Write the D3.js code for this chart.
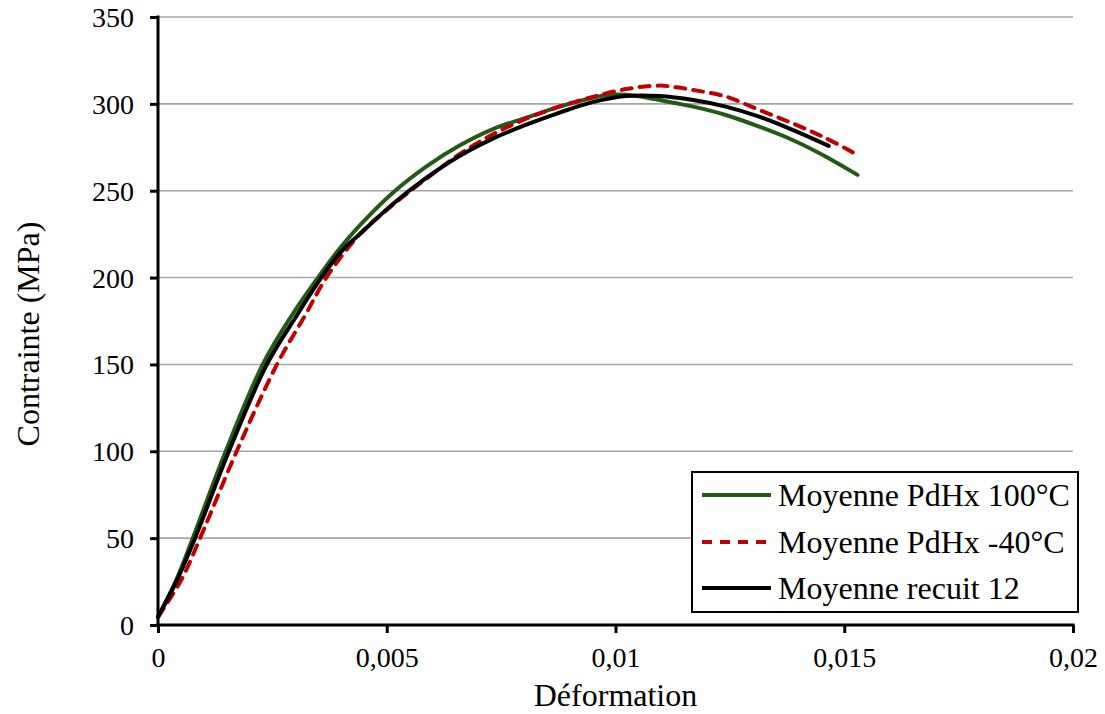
<!DOCTYPE html>
<html>
<head>
<meta charset="utf-8">
<script src="https://cdn.jsdelivr.net/npm/d3@7"></script>
<style>
  body { margin: 0; background: #fff; }
</style>
</head>
<body>
<svg id="chart" width="1105" height="714"></svg>
<script>
// Average stress–strain curves (strain, stress in MPa)
const seriesNames = ["Moyenne PdHx 100°C", "Moyenne PdHx -40°C", "Moyenne recuit 12"];

const strain100 = [0, 0.00040, 0.00076, 0.00148, 0.00229, 0.00292, 0.00347, 0.00395, 0.00441, 0.00514, 0.00587, 0.00659, 0.00732, 0.00805, 0.00878, 0.00950, 0.00987, 0.01023, 0.01060, 0.01096, 0.01133, 0.01170, 0.01241, 0.01314, 0.01387, 0.01460, 0.01529];
const stress100 = [5, 26, 50, 100, 150, 178, 199, 216, 230, 249, 264, 276, 285.5, 292, 298.4, 303.5, 305.2, 305.3, 304, 302.2, 300.3, 298.4, 293.6, 286.9, 279.2, 269.6, 259.1];

const strainM40 = [0, 0.00051, 0.00092, 0.00172, 0.00260, 0.00321, 0.00368, 0.00441, 0.00514, 0.00587, 0.00659, 0.00732, 0.00805, 0.00878, 0.00950, 0.01023, 0.01096, 0.01133, 0.01170, 0.01241, 0.01314, 0.01387, 0.01460, 0.01529];
const stressM40 = [4.6, 26, 50, 100, 150, 178, 200, 225, 242, 257, 271, 282.5, 291.5, 298.5, 304, 308.5, 310.5, 309.5, 308, 304.2, 296.5, 288.8, 280.2, 270.6];

const strainRec = [0, 0.00042, 0.00081, 0.00155, 0.00238, 0.00303, 0.00357, 0.00404, 0.00441, 0.00514, 0.00587, 0.00659, 0.00732, 0.00805, 0.00878, 0.00950, 0.01023, 0.01096, 0.01170, 0.01241, 0.01314, 0.01387, 0.01466];
const stressRec = [4.6, 26, 50, 100, 150, 178, 200, 216, 225, 242.5, 257.5, 270, 280, 288, 295, 301, 304.5, 304.5, 302.2, 298.4, 292.6, 285, 275.8];

const xTicks = [0, 0.005, 0.01, 0.015, 0.02];
const xTickLabels = ["0", "0,005", "0,01", "0,015", "0,02"];
const yTicks = [0, 50, 100, 150, 200, 250, 300, 350];

const serifFont = "Liberation Serif";

const svg = d3.select("#chart");
const plot = { left: 158, right: 1073, top: 17, bottom: 625 };

const x = d3.scaleLinear().domain([0, 0.02]).range([plot.left, plot.right]);
const y = d3.scaleLinear().domain([0, 350]).range([plot.bottom, plot.top]);

// horizontal gridlines
svg.append("g").selectAll("line").data(yTicks.filter(d => d > 0)).join("line")
  .attr("x1", plot.left).attr("x2", plot.right)
  .attr("y1", d => y(d)).attr("y2", d => y(d))
  .attr("stroke", "#a6a6a6").attr("stroke-width", 1.6);

// series
const series = [
  { name: seriesNames[0], xs: strain100, ys: stress100, color: "#235b12", dash: null },
  { name: seriesNames[1], xs: strainM40, ys: stressM40, color: "#c00000", dash: "10,8" },
  { name: seriesNames[2], xs: strainRec, ys: stressRec, color: "#000000", dash: null }
];

const line = d3.line()
  .x(d => x(d[0])).y(d => y(d[1]))
  .curve(d3.curveCatmullRom.alpha(0.5));

series.forEach(s => {
  svg.append("path")
    .datum(s.xs.map((v, i) => [v, s.ys[i]]))
    .attr("d", line)
    .attr("fill", "none")
    .attr("stroke", s.color)
    .attr("stroke-width", 4)
    .attr("stroke-linecap", "round")
    .attr("stroke-linejoin", "round")
    .attr("stroke-dasharray", s.dash);
});

// y axis
const yAxis = svg.append("g").attr("transform", `translate(${plot.left},0)`)
  .call(d3.axisLeft(y).tickValues(yTicks).tickSize(8).tickPadding(16).tickFormat(d3.format("d")));
yAxis.attr("font-family", null).attr("font-size", null);
yAxis.select(".domain").attr("stroke", "#000").attr("stroke-width", 3).attr("d", `M0,${plot.bottom + 1.5}V${plot.top - 1.5}`);
yAxis.selectAll(".tick line").attr("stroke", "#000").attr("stroke-width", 3);
yAxis.selectAll(".tick text").style("font-family", serifFont).style("font-size", "28px").attr("fill", "#000").attr("dy", "0.34em");

// x axis
const xAxis = svg.append("g").attr("transform", `translate(0,${plot.bottom})`)
  .call(d3.axisBottom(x).tickValues(xTicks).tickSize(8).tickPadding(14).tickFormat((d, i) => xTickLabels[i]));
xAxis.attr("font-family", null).attr("font-size", null);
xAxis.select(".domain").attr("stroke", "#000").attr("stroke-width", 3).attr("d", `M${plot.left - 1.5},0H${plot.right + 1.5}`);
xAxis.selectAll(".tick line").attr("stroke", "#000").attr("stroke-width", 3);
xAxis.selectAll(".tick text").style("font-family", serifFont).style("font-size", "28px").attr("fill", "#000");

// axis titles
svg.append("text")
  .attr("x", x(0.01)).attr("y", 706)
  .attr("text-anchor", "middle")
  .attr("font-family", serifFont).attr("font-size", 32)
  .text("Déformation");

svg.append("text")
  .attr("transform", "translate(39,334) rotate(-90)")
  .attr("text-anchor", "middle")
  .attr("font-family", serifFont).attr("font-size", 32)
  .text("Contrainte (MPa)");

// legend
const lg = svg.append("g");
lg.append("rect").attr("x", 692).attr("y", 472).attr("width", 386).attr("height", 140)
  .attr("fill", "#fff").attr("stroke", "#000").attr("stroke-width", 2);
const rowY = [495, 542, 588];
series.forEach((s, i) => {
  lg.append("line").attr("x1", 702).attr("x2", 771).attr("y1", rowY[i]).attr("y2", rowY[i])
    .attr("stroke", s.color).attr("stroke-width", 4).attr("stroke-dasharray", s.dash);
  lg.append("text").attr("x", 778).attr("y", rowY[i]).attr("dy", "0.35em")
    .attr("font-family", serifFont).attr("font-size", 32)
    .text(s.name);
});
</script>
</body>
</html>
